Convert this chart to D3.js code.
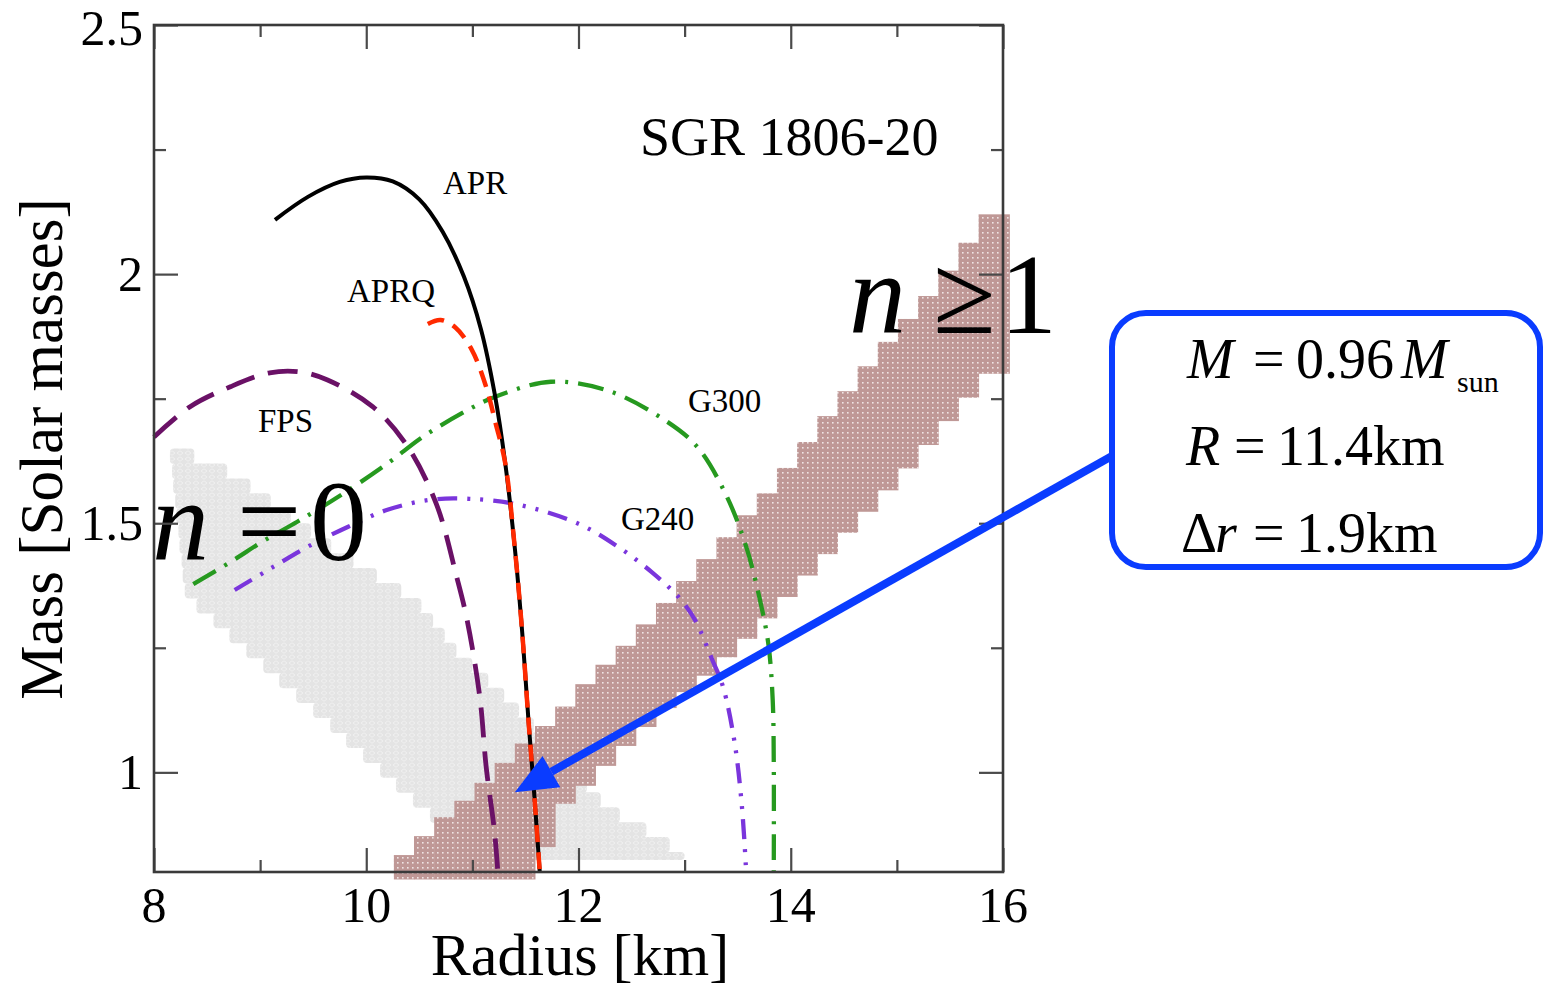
<!DOCTYPE html>
<html>
<head>
<meta charset="utf-8">
<script src="https://cdn.jsdelivr.net/npm/d3@7"></script>
<style>
  html, body { margin: 0; padding: 0; background: #ffffff; }
  svg { display: block; }
  text { font-family: "Liberation Serif", "Times New Roman", serif; fill: #000; }
</style>
</head>
<body>
<svg id="chart" width="1544" height="987"></svg>
<script>
// ---- axis ticks ----
const radiusMajorTicks = [8, 10, 12, 14, 16];
const radiusMinorTicks = [9, 11, 13, 15];
const massMajorTicks = [1, 1.5, 2, 2.5];
const massMinorTicks = [1.25, 1.75, 2.25];

// ---- mass-radius relations: [radius km, mass Msun] ----
const aprCurve = [[9.14, 2.109], [9.45, 2.155], [9.75, 2.185], [10.00, 2.194], [10.25, 2.186],
  [10.50, 2.150], [10.72, 2.085], [10.92, 1.995], [11.08, 1.890], [11.21, 1.760], [11.31, 1.620],
  [11.40, 1.450], [11.47, 1.280], [11.53, 1.100], [11.585, 0.950], [11.635, 0.800]];
const aprqCurve = [[10.58, 1.900], [10.70, 1.908], [10.84, 1.893], [10.99, 1.850], [11.12, 1.780],
  [11.22, 1.700], [11.31, 1.620], [11.40, 1.450], [11.47, 1.280], [11.53, 1.100], [11.585, 0.950],
  [11.635, 0.800]];
const fpsCurve = [[8.00, 1.673], [8.34, 1.734], [8.72, 1.774], [9.09, 1.802], [9.37, 1.804],
  [9.63, 1.788], [10.06, 1.734], [10.38, 1.657], [10.66, 1.539], [10.85, 1.394], [10.95, 1.306],
  [11.07, 1.151], [11.13, 1.011], [11.21, 0.878], [11.24, 0.800]];
const g300Curve = [[8.37, 1.378], [8.72, 1.422], [9.02, 1.463], [9.35, 1.503], [9.78, 1.559],
  [10.22, 1.623], [10.53, 1.673], [10.98, 1.730], [11.24, 1.756], [11.74, 1.784], [12.28, 1.766],
  [12.82, 1.706], [13.12, 1.653], [13.39, 1.557], [13.58, 1.453], [13.71, 1.346], [13.79, 1.256],
  [13.83, 1.145], [13.84, 1.017], [13.84, 0.800]];
const g240Curve = [[8.76, 1.366], [9.09, 1.408], [9.45, 1.453], [9.83, 1.493], [10.20, 1.527],
  [10.60, 1.547], [10.97, 1.549], [11.44, 1.537], [12.00, 1.499], [12.37, 1.453], [12.69, 1.402],
  [12.95, 1.350], [13.10, 1.305], [13.26, 1.226], [13.36, 1.173], [13.47, 1.061], [13.54, 0.931],
  [13.58, 0.800]];

// ---- n >= 1 allowed region: columns (radius boundaries, mass low/high) ----
const n1ColumnEdges = [10.26, 10.45, 10.64, 10.83, 11.02, 11.21, 11.40, 11.59, 11.78, 11.97, 12.16,
  12.35, 12.54, 12.73, 12.92, 13.11, 13.30, 13.49, 13.68, 13.87, 14.06, 14.25, 14.44, 14.63, 14.82,
  15.01, 15.20, 15.39, 15.58, 15.77, 16.06];
const n1ColumnLow = [0.785, 0.785, 0.785, 0.785, 0.785, 0.785, 0.785, 0.850, 0.937, 0.973, 1.013,
  1.053, 1.091, 1.129, 1.161, 1.194, 1.231, 1.268, 1.309, 1.352, 1.395, 1.438, 1.481, 1.523, 1.566,
  1.610, 1.657, 1.705, 1.752, 1.800];
const n1ColumnHigh = [0.834, 0.872, 0.910, 0.943, 0.979, 1.019, 1.058, 1.093, 1.132, 1.177, 1.216,
  1.254, 1.297, 1.340, 1.384, 1.428, 1.472, 1.516, 1.560, 1.611, 1.663, 1.715, 1.765, 1.815, 1.864,
  1.910, 1.956, 2.007, 2.063, 2.120];

// ---- n = 0 allowed region: rows (mass boundaries, radius left/right) ----
const n0RowEdges = [1.650, 1.620, 1.590, 1.560, 1.530, 1.500, 1.470, 1.440, 1.410, 1.380, 1.350,
  1.320, 1.290, 1.260, 1.230, 1.200, 1.170, 1.140, 1.110, 1.080, 1.050, 1.020, 0.990, 0.960, 0.930,
  0.900, 0.870, 0.840, 0.825];
const n0RowLeft = [8.15, 8.17, 8.18, 8.20, 8.21, 8.23, 8.24, 8.26, 8.27, 8.29, 8.40, 8.56, 8.71,
  8.87, 9.03, 9.18, 9.34, 9.50, 9.66, 9.81, 9.97, 10.13, 10.28, 10.44, 10.60, 10.75, 10.91, 11.02];
const n0RowRight = [8.38, 8.69, 8.91, 9.10, 9.29, 9.48, 9.67, 9.88, 10.10, 10.33, 10.52, 10.63,
  10.74, 10.85, 11.00, 11.15, 11.30, 11.44, 11.58, 11.71, 11.83, 11.96, 12.08, 12.21, 12.39, 12.64,
  12.86, 13.00];

// ---- highlighted solution ----
const solutionMass = 0.96;      // Msun
const solutionRadius = 11.4;    // km
const solutionShell = 1.9;      // km

const svg = d3.select("#chart");
const plot = { left: 154, right: 1003, top: 25, bottom: 872 };

const x = d3.scaleLinear().domain([8, 16]).range([plot.left, plot.right]);
const y = d3.scaleLinear().domain([0.8, 2.5]).range([plot.bottom, plot.top]);

// fill textures
const defs = svg.append("defs");
const brownPat = defs.append("pattern").attr("id", "brownCells")
  .attr("patternUnits", "userSpaceOnUse").attr("width", 5).attr("height", 5);
brownPat.append("rect").attr("width", 5).attr("height", 5).attr("fill", "#bf9896");
brownPat.append("rect").attr("x", 2).attr("y", 2).attr("width", 1.6).attr("height", 1.6)
  .attr("fill", "#ffffff").attr("opacity", 0.75);

const grayPat = defs.append("pattern").attr("id", "grayCells")
  .attr("patternUnits", "userSpaceOnUse").attr("width", 8).attr("height", 6);
grayPat.append("rect").attr("width", 8).attr("height", 6).attr("fill", "#e4e4e4");
grayPat.append("path").attr("d", "M4,0.8 L7,3 L4,5.2 L1,3 Z")
  .attr("fill", "none").attr("stroke", "#f1f1f1").attr("stroke-width", 0.9);

// n = 0 region
const n0Rows = n0RowLeft.map((l, i) => ({ top: n0RowEdges[i], bottom: n0RowEdges[i + 1], left: l, right: n0RowRight[i] }));
svg.append("g").selectAll("rect").data(n0Rows).join("rect")
  .attr("x", d => x(d.left))
  .attr("y", d => y(d.top))
  .attr("width", d => x(d.right) - x(d.left))
  .attr("height", d => y(d.bottom) - y(d.top) + 0.5)
  .attr("rx", 4)
  .attr("fill", "url(#grayCells)");

// n >= 1 region
const n1Cols = n1ColumnLow.map((lo, i) => ({ left: n1ColumnEdges[i], right: n1ColumnEdges[i + 1], low: lo, high: n1ColumnHigh[i] }));
svg.append("g").selectAll("rect").data(n1Cols).join("rect")
  .attr("x", d => x(d.left))
  .attr("y", d => y(d.high))
  .attr("width", d => x(d.right) - x(d.left) + 0.5)
  .attr("height", d => y(d.low) - y(d.high))
  .attr("fill", "url(#brownCells)");

// curves
const line = d3.line().x(d => x(d[0])).y(d => y(d[1])).curve(d3.curveCatmullRom.alpha(0.5));
const curves = [
  { data: fpsCurve, color: "#6a1166", dash: "30,14", width: 4.8 },
  { data: g300Curve, color: "#26991f", dash: "26,10,3,10", width: 4.3 },
  { data: g240Curve, color: "#7a35dc", dash: "20,10,3,10,3,10", width: 4.3 },
  { data: aprCurve, color: "#000000", dash: null, width: 4 },
  { data: aprqCurve, color: "#ff2a00", dash: "17,10", width: 4.5 }
];
svg.append("g").selectAll("path").data(curves).join("path")
  .attr("d", d => line(d.data))
  .attr("fill", "none")
  .attr("stroke", d => d.color)
  .attr("stroke-width", d => d.width)
  .attr("stroke-dasharray", d => d.dash);

// curve names
const curveLabels = [
  { text: "APR", x: 443, y: 194 },
  { text: "APRQ", x: 347, y: 302 },
  { text: "FPS", x: 258, y: 432 },
  { text: "G300", x: 688, y: 412 },
  { text: "G240", x: 621, y: 530 }
];
svg.append("g").selectAll("text").data(curveLabels).join("text")
  .attr("x", d => d.x).attr("y", d => d.y)
  .attr("font-size", 33)
  .text(d => d.text);

svg.append("text").attr("x", 640).attr("y", 155).attr("font-size", 54).text("SGR 1806-20");

// big mode labels
const big = svg.append("g").attr("font-size", 114);
big.append("text").attr("x", 152).attr("y", 560).attr("font-style", "italic").text("n");
big.append("text").attr("x", 237).attr("y", 560).text("=");
big.append("text").attr("x", 310).attr("y", 560).text("0");
big.append("text").attr("x", 849).attr("y", 333).attr("font-style", "italic").text("n");
big.append("text").attr("x", 933).attr("y", 333).text("\u2265");
big.append("text").attr("x", 1000).attr("y", 333).text("1");

// ticks (inward) on all four sides
function tickAxis(axisFn, scale, ticks, size, transform) {
  const g = svg.append("g").attr("transform", transform)
    .call(axisFn(scale).tickValues(ticks).tickSize(-size).tickFormat(""));
  g.select(".domain").remove();
  g.selectAll(".tick line").attr("stroke", "#4a4a4a").attr("stroke-width", 2.2);
}
tickAxis(d3.axisBottom, x, radiusMajorTicks, 24, `translate(0,${plot.bottom})`);
tickAxis(d3.axisBottom, x, radiusMinorTicks, 12, `translate(0,${plot.bottom})`);
tickAxis(d3.axisTop, x, radiusMajorTicks, 24, `translate(0,${plot.top})`);
tickAxis(d3.axisTop, x, radiusMinorTicks, 12, `translate(0,${plot.top})`);
tickAxis(d3.axisLeft, y, massMajorTicks, 24, `translate(${plot.left},0)`);
tickAxis(d3.axisLeft, y, massMinorTicks, 12, `translate(${plot.left},0)`);
tickAxis(d3.axisRight, y, massMajorTicks, 24, `translate(${plot.right},0)`);
tickAxis(d3.axisRight, y, massMinorTicks, 12, `translate(${plot.right},0)`);

svg.append("rect")
  .attr("x", plot.left).attr("y", plot.top)
  .attr("width", plot.right - plot.left).attr("height", plot.bottom - plot.top)
  .attr("fill", "none").attr("stroke", "#3a3a3a").attr("stroke-width", 2.6);

// tick labels
svg.append("g").selectAll("text").data(radiusMajorTicks).join("text")
  .attr("x", d => x(d)).attr("y", 922)
  .attr("text-anchor", "middle").attr("font-size", 50)
  .text(d => d);
svg.append("g").selectAll("text").data(massMajorTicks).join("text")
  .attr("x", 143).attr("y", d => Math.max(y(d) + 17, 45))
  .attr("text-anchor", "end").attr("font-size", 50)
  .text(d => d);

// axis titles
svg.append("text").attr("x", 580).attr("y", 975)
  .attr("text-anchor", "middle").attr("font-size", 60).text("Radius [km]");
svg.append("text").attr("transform", "translate(62,449) rotate(-90)")
  .attr("text-anchor", "middle").attr("font-size", 61).text("Mass [Solar masses]");

// annotation arrow to the solution point
const blue = "#0a3cff";
const tip = [x(solutionRadius), y(solutionMass)];
const tail = [1112, 456];
const ang = Math.atan2(tail[1] - tip[1], tail[0] - tip[0]);
const headLen = 42, headHalf = 18;
const base = [tip[0] + headLen * Math.cos(ang), tip[1] + headLen * Math.sin(ang)];
svg.append("line")
  .attr("x1", tail[0]).attr("y1", tail[1])
  .attr("x2", base[0]).attr("y2", base[1])
  .attr("stroke", blue).attr("stroke-width", 8);
svg.append("path")
  .attr("d", d3.line()([
    tip,
    [base[0] - headHalf * Math.sin(ang), base[1] + headHalf * Math.cos(ang)],
    [base[0] + headHalf * Math.sin(ang), base[1] - headHalf * Math.cos(ang)]
  ]) + "Z")
  .attr("fill", blue);

// solution box
svg.append("rect")
  .attr("x", 1112).attr("y", 313).attr("width", 428).attr("height", 254).attr("rx", 34)
  .attr("fill", "#ffffff").attr("stroke", blue).attr("stroke-width", 6);

const box = svg.append("g").attr("font-size", 56);
box.append("text").attr("x", 1187).attr("y", 378).attr("font-style", "italic").text("M");
box.append("text").attr("x", 1253).attr("y", 378).text("=");
box.append("text").attr("x", 1296).attr("y", 378).text(solutionMass.toFixed(2));
box.append("text").attr("x", 1401).attr("y", 378).attr("font-style", "italic").text("M");
box.append("text").attr("x", 1457).attr("y", 392).attr("font-size", 30).text("sun");

box.append("text").attr("x", 1186).attr("y", 465).attr("font-style", "italic").text("R");
box.append("text").attr("x", 1234).attr("y", 465).text("=");
box.append("text").attr("x", 1277).attr("y", 465).text(solutionRadius.toFixed(1) + "km");

const dr = box.append("text").attr("x", 1181).attr("y", 552);
dr.append("tspan").text("\u0394");
dr.append("tspan").attr("font-style", "italic").attr("dx", -2).text("r");
box.append("text").attr("x", 1253).attr("y", 552).text("=");
box.append("text").attr("x", 1296).attr("y", 552).text(solutionShell.toFixed(1) + "km");
</script>
</body>
</html>
